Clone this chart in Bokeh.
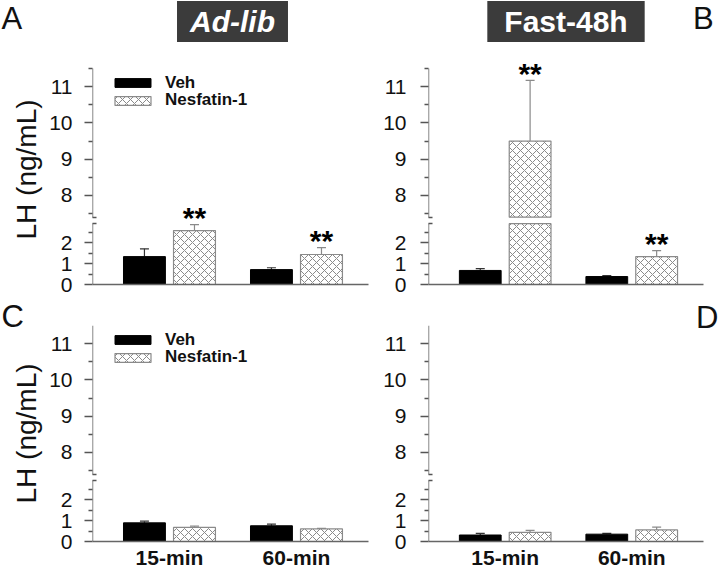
from bokeh.plotting import figure
from bokeh.models import (ColumnDataSource, FixedTicker, CustomJSTickFormatter, Whisker, TeeHead,
                          Label, Legend, LegendItem, Range1d, LinearAxis, Title)
from bokeh.layouts import row, column
from bokeh.embed import file_html
from bokeh.resources import INLINE
from bokeh.core.properties import value

# ---------------- data ----------------
groups = ["15-min", "60-min"]
series_names = ["Veh", "Nesfatin-1"]
panel_letters = ["A", "B", "C", "D"]
column_titles = ["Ad-lib", "Fast-48h"]
y_label = "LH (ng/mL)"

veh_A = [1.33, 0.71]
veh_A_err = [0.37, 0.09]
nes_A = [2.57, 1.43]
nes_A_err = [0.29, 0.33]
stars_A = ["**", "**"]

veh_B = [0.67, 0.38]
veh_B_err = [0.09, 0.05]
nes_B = [9.50, 1.33]
nes_B_err = [1.67, 0.29]
stars_B = ["**", "**"]

veh_C = [0.89, 0.75]
veh_C_err = [0.08, 0.08]
nes_C = [0.67, 0.60]
nes_C_err = [0.06, 0.03]
stars_C = ["", ""]

veh_D = [0.31, 0.35]
veh_D_err = [0.08, 0.04]
nes_D = [0.44, 0.55]
nes_D_err = [0.09, 0.14]
stars_D = ["", ""]

major_ticks = [0, 1, 2, 8, 9, 10, 11]
minor_ticks = [0.5, 1.5, 2.5, 7.5, 8.5, 9.5, 10.5, 11.5]

# broken axis definition
LO_TOP = 2.9
HI_BOT = 7.4
HI_TOP = 11.5
K = 36.33 / 21.0      # upper segment is stretched relative to lower
GAP = 6.5 / 21.0      # gap between segments, in lower-segment units


def d(v):
    return v if v <= LO_TOP else LO_TOP + GAP + (v - HI_BOT) * K


FONT = "Liberation Sans"
OFF = 0.197
BAR_W = 0.33
X0 = -0.606
X1 = X0 + 276 / 127.0
AXIS_PX = 216          # pixel length of the drawn y axis (0 .. 11.5)
AX_COL = "#555555"
HATCH_COL = "#8a8a8a"
TXT = "#111111"


def break_axis(lo, hi, tick):
    ax = LinearAxis(fixed_location=X0, bounds=(lo, hi),
                    ticker=FixedTicker(ticks=[tick], minor_ticks=[]),
                    formatter=CustomJSTickFormatter(code="return '';"),
                    axis_line_color=AX_COL, axis_line_width=1.4,
                    major_tick_line_color=AX_COL, major_tick_line_width=1.4,
                    major_tick_in=9, major_tick_out=4,
                    minor_tick_in=0, minor_tick_out=0,
                    major_label_standoff=0)
    return ax


def legend_box(r, label, y_from_axis_top):
    return Legend(items=[LegendItem(label=label, renderers=[r])],
                  location=(18, AXIS_PX - y_from_axis_top), margin=0, padding=0, spacing=0,
                  glyph_width=45, glyph_height=11, label_standoff=10,
                  label_text_font=FONT, label_text_font_size="17px",
                  label_text_font_style="bold", label_text_color=TXT,
                  background_fill_alpha=0, border_line_color=None)


def make_panel(veh, veh_err, nes, nes_err, stars, show_ylabel, show_xlabels, show_legend,
               width, height, mb, label_standoff, extra_top):
    y_end = d(HI_TOP) * (AXIS_PX + extra_top) / AXIS_PX
    p = figure(width=width, height=height, output_backend="svg", toolbar_location=None,
               x_range=Range1d(X0, X1), y_range=Range1d(0, y_end),
               min_border_left=mb[0], min_border_right=mb[1],
               min_border_top=mb[2], min_border_bottom=mb[3])
    p.xgrid.visible = False
    p.ygrid.visible = False
    p.outline_line_color = None
    p.background_fill_color = "white"

    def pieces(xs, vals):
        src = dict(x=[], bottom=[], top=[])
        for x, v in zip(xs, vals):
            src["x"].append(x)
            src["bottom"].append(0)
            src["top"].append(d(min(v, LO_TOP)))
            if v > HI_BOT:
                src["x"].append(x)
                src["bottom"].append(d(HI_BOT))
                src["top"].append(d(v))
        return ColumnDataSource(src)

    xs_v = [i - OFF for i in range(len(groups))]
    xs_n = [i + OFF for i in range(len(groups))]

    r_veh = p.vbar(x="x", bottom="bottom", top="top", width=BAR_W, source=pieces(xs_v, veh),
                   fill_color="black", line_color="black")
    r_nes = p.vbar(x="x", bottom="bottom", top="top", width=BAR_W, source=pieces(xs_n, nes),
                   fill_color="white", line_color=HATCH_COL, line_width=1.2,
                   hatch_pattern="diagonal_cross", hatch_color=HATCH_COL,
                   hatch_scale=8, hatch_weight=1)

    for xs, vals, errs, col in [(xs_v, veh, veh_err, "#333333"), (xs_n, nes, nes_err, HATCH_COL)]:
        ws = ColumnDataSource(dict(base=xs, lower=[d(v) for v in vals],
                                   upper=[d(v + e) for v, e in zip(vals, errs)]))
        p.add_layout(Whisker(source=ws, base="base", lower="lower", upper="upper",
                             lower_head=None,
                             upper_head=TeeHead(size=9, line_color=col, line_width=1.2),
                             line_color=col, line_width=1.2))

    st_x = [x for x, s in zip(xs_n, stars) if s]
    st_y = [d(v + e) for v, e, s in zip(nes, nes_err, stars) if s]
    st_t = [s for s in stars if s]
    if st_t:
        p.text(x=st_x, y=st_y, text=st_t, text_align="center", text_baseline="alphabetic",
               y_offset=-7, text_font=value(FONT), text_font_size="30px",
               text_font_style="bold", text_color="black")

    # main y axis: ticks and labels (line drawn by the two break axes)
    yax = p.yaxis[0]
    yax.bounds = (0, d(HI_TOP))
    yax.ticker = FixedTicker(ticks=[d(v) for v in major_ticks],
                             minor_ticks=[d(v) for v in minor_ticks])
    yax.formatter = CustomJSTickFormatter(
        args=dict(LT=LO_TOP, G=GAP, KK=K, HB=HI_BOT),
        code="var v = tick <= LT + 1e-9 ? tick : (tick - LT - G) / KK + HB; return String(Math.round(v));")
    yax.axis_line_color = None
    yax.major_tick_out = 8
    yax.major_tick_in = 0
    yax.minor_tick_out = 4
    yax.minor_tick_in = 0
    yax.major_tick_line_color = AX_COL
    yax.minor_tick_line_color = AX_COL
    yax.major_tick_line_width = 1.3
    yax.minor_tick_line_width = 1.3
    yax.major_label_standoff = label_standoff
    yax.major_label_text_font = FONT
    yax.major_label_text_font_size = "21px"
    yax.major_label_text_color = TXT
    if show_ylabel:
        yax.axis_label = y_label
        yax.axis_label_text_font = FONT
        yax.axis_label_text_font_size = "28px"
        yax.axis_label_text_font_style = "normal"
        yax.axis_label_text_color = TXT
        yax.axis_label_standoff = 4

    p.add_layout(break_axis(0, d(LO_TOP), d(LO_TOP)), "right")
    p.add_layout(break_axis(d(HI_BOT), d(HI_TOP), d(HI_BOT)), "right")

    # x axis
    xax = p.xaxis[0]
    xax.axis_line_color = "#666666"
    xax.axis_line_width = 1.6
    xax.major_tick_out = 0
    xax.major_tick_in = 0
    xax.minor_tick_out = 0
    xax.minor_tick_in = 0
    if show_xlabels:
        xax.ticker = FixedTicker(ticks=list(range(len(groups))), minor_ticks=[])
        xax.major_label_overrides = {i: g for i, g in enumerate(groups)}
        xax.major_label_text_font = FONT
        xax.major_label_text_font_size = "21px"
        xax.major_label_text_font_style = "bold"
        xax.major_label_text_color = TXT
        xax.major_label_standoff = 4
    else:
        xax.ticker = FixedTicker(ticks=[], minor_ticks=[])

    if show_legend:
        p.add_layout(legend_box(r_veh, series_names[0], 24.5))
        p.add_layout(legend_box(r_nes, series_names[1], 42.2))
    return p


def strip(height):
    s = figure(width=720, height=height, output_backend="svg", toolbar_location=None,
               x_range=Range1d(0, 720), y_range=Range1d(0, height),
               x_axis_type=None, y_axis_type=None, min_border=0)
    s.outline_line_color = None
    s.grid.visible = False
    return s


def letter(s, x, y, t):
    s.add_layout(Label(x=x, y=y, text=t, text_baseline="middle", text_align="left",
                       text_font=FONT, text_font_size="31px", text_color=TXT))


# header strip: panel letters A/B and column title boxes
s1 = strip(42)
s1.add_layout(Label(x=232, y=21, text=column_titles[0], text_align="center", text_baseline="middle",
                    text_font=FONT, text_font_size="30px", text_font_style="bold italic",
                    text_color="white", background_fill_color="#3b3b3b", padding=(13, 4)))
s1.add_layout(Label(x=565.5, y=21, text=column_titles[1], text_align="center", text_baseline="middle",
                    text_font=FONT, text_font_size="30px", text_font_style="bold",
                    text_color="white", background_fill_color="#3b3b3b", padding=(17, 4)))
letter(s1, 1, 24.5, panel_letters[0])
letter(s1, 692.5, 24.5, panel_letters[1])

TOP_EXTRA = 14   # room above the axis top for the significance marks
pA = make_panel(veh_A, veh_A_err, nes_A, nes_A_err, stars_A, True, False, True,
                380, 254, (92, 12, 26 - TOP_EXTRA, 12), 12, TOP_EXTRA)
pB = make_panel(veh_B, veh_B_err, nes_B, nes_B_err, stars_B, False, False, False,
                340, 254, (47, 17, 26 - TOP_EXTRA, 12), 14, TOP_EXTRA)
pC = make_panel(veh_C, veh_C_err, nes_C, nes_C_err, stars_C, True, True, True,
                380, 275, (92, 12, 29, 30), 12, 0)
pD = make_panel(veh_D, veh_D_err, nes_D, nes_D_err, stars_D, False, True, False,
                340, 275, (47, 17, 29, 30), 14, 0)

# panel letters C/D as titles hanging just above the lower frames
pC.title = Title(text=panel_letters[2], align="left", offset=-91, standoff=-16,
                 text_font=FONT, text_font_size="31px", text_font_style="normal", text_color=TXT)
pD.title = Title(text=panel_letters[3], align="right", offset=-15, standoff=-18,
                 text_font=FONT, text_font_size="31px", text_font_style="normal", text_color=TXT)

layout = column(s1, row(pA, pB), row(pC, pD))
open("out.html", "w").write(file_html(layout, INLINE))
